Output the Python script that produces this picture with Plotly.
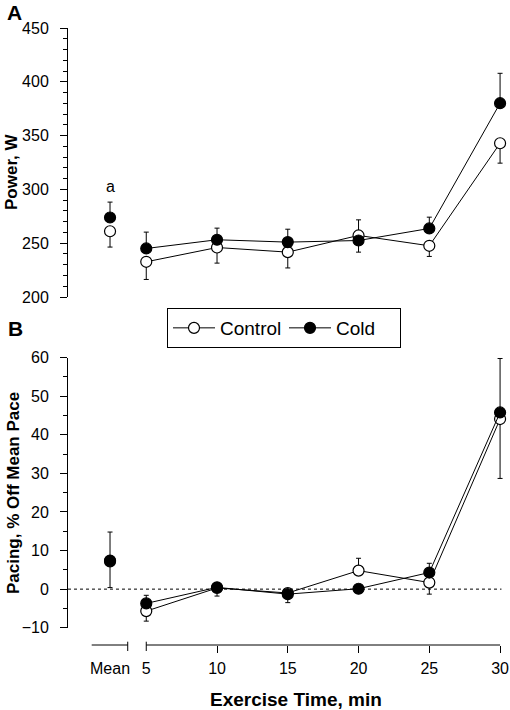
import plotly.graph_objects as go

# ---------------- data ----------------
minutes = [5, 10, 15, 20, 25, 30]
mean_pos = 2.44
x_tickvals = [mean_pos, 5, 10, 15, 20, 25, 30]
x_ticktext = ["Mean", "5", "10", "15", "20", "25", "30"]

# Panel A: Power, W
power_control = [232.7, 246.0, 241.7, 257.2, 247.6, 342.9]
power_control_plus = [0, 0, 0, 14.5, 0, 0]
power_control_minus = [16.4, 14.5, 14.7, 0, 9.9, 18.5]
power_cold = [245.1, 253.2, 251.0, 252.5, 263.7, 380.1]
power_cold_plus = [15.2, 10.8, 12.0, 0, 10.5, 27.8]
power_cold_minus = [0, 0, 0, 10.8, 0, 0]
power_mean_control, power_mean_control_minus = 261.1, 14.7
power_mean_cold, power_mean_cold_plus = 273.9, 14.3

# Panel B: Pacing, % off mean pace
pace_control = [-5.7, 0.3, -1.0, 4.8, 1.7, 44.1]
pace_control_plus = [0, 0, 0, 3.2, 0, 0]
pace_control_minus = [2.6, 2.1, 2.5, 0, 3.0, 15.4]
pace_cold = [-3.7, 0.45, -1.3, 0.1, 4.3, 45.8]
pace_cold_plus = [2.1, 0, 0, 0, 2.4, 14.0]
pace_cold_minus = [0, 0, 0, 0, 0, 0]
pace_mean_control, pace_mean_control_minus = 7.2, 6.8
pace_mean_cold, pace_mean_cold_plus = 7.4, 7.4

# ---------------- styling ----------------
FONT = "Liberation Sans, Arial, sans-serif"
X_RANGE = [-0.53, 30.49]
W, H = 510, 710
ML, MR, MT, MB = 68, 3, 28, 65
plot_h = H - MT - MB
plot_w = W - ML - MR


def py(pix):
    """pixel y -> paper y"""
    return (H - MB - pix) / plot_h


def px(pix):
    """pixel x -> paper x"""
    return (pix - ML) / plot_w


open_marker = dict(symbol="circle", size=11, color="white", line=dict(color="black", width=1.2))
fill_marker = dict(symbol="circle", size=11, color="black", line=dict(color="black", width=1.2))


def err(plus, minus):
    return dict(type="data", symmetric=False, array=plus, arrayminus=minus,
                color="black", thickness=1, width=2.5)


fig = go.Figure()

# ---- Panel A ----
fig.add_trace(go.Scatter(x=[mean_pos], y=[power_mean_control], mode="markers",
                         marker=open_marker, error_y=err([0], [power_mean_control_minus]),
                         showlegend=False, xaxis="x", yaxis="y", cliponaxis=False))
fig.add_trace(go.Scatter(x=minutes, y=power_control, mode="lines+markers", name="Control",
                         line=dict(color="black", width=1), marker=open_marker,
                         error_y=err(power_control_plus, power_control_minus),
                         showlegend=True, legendgroup="c", xaxis="x", yaxis="y", cliponaxis=False))
fig.add_trace(go.Scatter(x=[mean_pos], y=[power_mean_cold], mode="markers",
                         marker=fill_marker, error_y=err([power_mean_cold_plus], [0]),
                         showlegend=False, xaxis="x", yaxis="y", cliponaxis=False))
fig.add_trace(go.Scatter(x=minutes, y=power_cold, mode="lines+markers", name="Cold",
                         line=dict(color="black", width=1), marker=fill_marker,
                         error_y=err(power_cold_plus, power_cold_minus),
                         showlegend=True, legendgroup="d", xaxis="x", yaxis="y", cliponaxis=False))

# ---- Panel B ----
fig.add_trace(go.Scatter(x=[mean_pos], y=[pace_mean_control], mode="markers",
                         marker=open_marker, error_y=err([0], [pace_mean_control_minus]),
                         showlegend=False, xaxis="x2", yaxis="y2", cliponaxis=False))
fig.add_trace(go.Scatter(x=minutes, y=pace_control, mode="lines+markers", name="Control",
                         line=dict(color="black", width=1), marker=open_marker,
                         error_y=err(pace_control_plus, pace_control_minus),
                         showlegend=False, legendgroup="c", xaxis="x2", yaxis="y2", cliponaxis=False))
fig.add_trace(go.Scatter(x=[mean_pos], y=[pace_mean_cold], mode="markers",
                         marker=fill_marker, error_y=err([pace_mean_cold_plus], [0]),
                         showlegend=False, xaxis="x2", yaxis="y2", cliponaxis=False))
fig.add_trace(go.Scatter(x=minutes, y=pace_cold, mode="lines+markers", name="Cold",
                         line=dict(color="black", width=1), marker=fill_marker,
                         error_y=err(pace_cold_plus, pace_cold_minus),
                         showlegend=False, legendgroup="d", xaxis="x2", yaxis="y2", cliponaxis=False))

yax_common = dict(showgrid=False, zeroline=False, showline=True, linecolor="black", linewidth=1,
                  ticks="outside", ticklen=7, tickwidth=1, tickcolor="black",
                  ticklabelstandoff=8,
                  tickfont=dict(family=FONT, size=16, color="black"))

fig.update_layout(
    width=W, height=H,
    margin=dict(l=ML, r=MR, t=MT, b=MB, pad=0, autoexpand=False),
    paper_bgcolor="white", plot_bgcolor="white",
    font=dict(family=FONT, color="black"),
    xaxis=dict(domain=[0, 1], range=X_RANGE, visible=False, anchor="y"),
    yaxis=dict(domain=[py(297), 1], range=[200, 450], tickvals=[200, 250, 300, 350, 400, 450],
               minor=dict(dtick=10, tick0=200, ticks="outside", ticklen=4, tickcolor="black"),
               anchor="x", **yax_common),
    xaxis2=dict(domain=[0, 1], range=X_RANGE, anchor="free", position=0,
                showline=False, showgrid=False, zeroline=False,
                tickmode="array", tickvals=x_tickvals, ticktext=x_ticktext, ticks="",
                ticklabelstandoff=12,
                minor=dict(tickmode="array", tickvals=[10, 15, 20, 25, 30], ticks="outside",
                           ticklen=7, tickcolor="black", tickwidth=1),
                tickfont=dict(family=FONT, size=16, color="black")),
    yaxis2=dict(domain=[py(627.7), py(357.7)], range=[-10, 60],
                tickvals=[-10, 0, 10, 20, 30, 40, 50, 60],
                minor=dict(dtick=5, tick0=-10, ticks="outside", ticklen=4, tickcolor="black"),
                anchor="x2", **yax_common),
    legend=dict(orientation="h", x=px(167), y=py(308),
                xanchor="left", yanchor="top",
                bordercolor="black", borderwidth=1, bgcolor="white",
                itemwidth=42, entrywidth=59, entrywidthmode="pixels",
                font=dict(family=FONT, size=19, color="black"), traceorder="normal"),
    showlegend=True,
)

# broken x axis (panel B)
line_style = dict(color="black", width=1)
shapes = [
    dict(type="line", xref="x2", yref="paper", x0=1.145, x1=3.69, y0=0, y1=0, line=line_style),
    dict(type="line", xref="x2", yref="paper", x0=5, x1=30, y0=0, y1=0, line=line_style),
    dict(type="line", xref="x2", yref="paper", x0=3.69, x1=3.69, y0=py(641.7), y1=py(651), line=line_style),
    dict(type="line", xref="x2", yref="paper", x0=5, x1=5, y0=py(641.7), y1=py(651), line=line_style),
    # zero reference line
    dict(type="line", xref="x2", yref="y2", x0=X_RANGE[0], x1=30.1, y0=0, y1=0,
         line=dict(color="black", width=1, dash="dot")),
]
fig.update_layout(shapes=shapes)

centered = dict(xanchor="center", yanchor="middle", showarrow=False)
ann = [
    dict(text="a", x=mean_pos, y=303, xref="x", yref="y",
         font=dict(family=FONT, size=16, color="black"), **centered),
    dict(text="<b>A</b>", x=px(14), y=py(13), xref="paper", yref="paper",
         font=dict(family=FONT, size=21, color="black"), **centered),
    dict(text="<b>B</b>", x=px(15), y=py(328), xref="paper", yref="paper",
         font=dict(family=FONT, size=21, color="black"), **centered),
    dict(text="<b>Power, W</b>", x=px(12), y=py(171), xref="paper", yref="paper",
         textangle=-90, font=dict(family=FONT, size=17, color="black"), **centered),
    dict(text="<b>Pacing, % Off Mean Pace</b>", x=px(13), y=py(493),
         xref="paper", yref="paper",
         textangle=-90, font=dict(family=FONT, size=17, color="black"), **centered),
    dict(text="<b>Exercise Time, min</b>", x=15.6, y=py(699), xref="x2", yref="paper",
         font=dict(family=FONT, size=19, color="black"), **centered),
]
fig.update_layout(annotations=ann)

fig.write_html("out.html", config={"displayModeBar": False},
               post_script="document.body.style.margin='0';document.body.style.padding='0';")
